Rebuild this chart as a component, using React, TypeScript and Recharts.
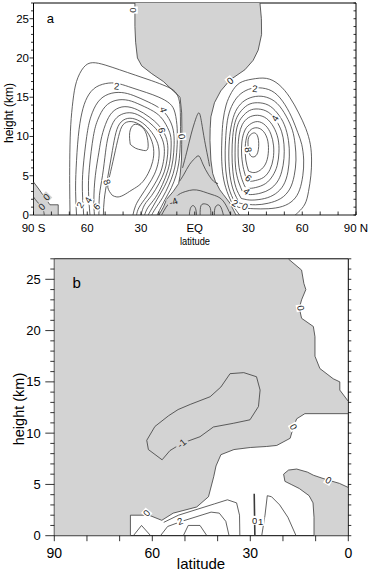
import { Scatter, ScatterChart, XAxis, YAxis } from "recharts";

type Pt = [number, number];
type Lbl = { x: number; y: number; t: string };

const GRAY = "#d3d3d3";
const INK = "#3a3a3a";
const FONT = "'Liberation Sans', Arial, Helvetica, sans-serif";

// ---- axes ----
const KM_TICKS = [0, 1, 2, 3, 4, 5, 6, 7, 8, 9, 10, 11, 12, 13, 14, 15, 16, 17, 18, 19, 20, 21, 22, 23, 24, 25, 26, 27];
const KM_LABELS = ["0", "5", "10", "15", "20", "25"];
const A_LAT_TICKS = [-90, -80, -70, -60, -50, -40, -30, -20, -10, 0, 10, 20, 30, 40, 50, 60, 70, 80, 90];
const A_LAT_NAMES: Record<string, string> = { "-90": "90 S", "-60": "60", "-30": "30", "0": "EQ", "30": "30", "60": "60", "90": "90 N" };
const B_LAT_TICKS = [0, 10, 20, 30, 40, 50, 60, 70, 80, 90];
const B_LAT_NAMES: Record<string, string> = { "90": "90", "60": "60", "30": "30", "0": "0" };

// ---- panel a: shaded (negative) regions, [lat, km] ----
const A_GRAY_MAIN: Pt[] = [
  [-33.4, 27], [-33.4, 24], [-33, 22], [-32, 20], [-29.6, 19], [-24, 18], [-17.5, 17], [-12.9, 16], [-8.2, 15],
  [-7.3, 13], [-7.2, 11], [-7.3, 9], [-7.4, 7], [-8.2, 5], [-9, 4], [-12, 3], [-15.7, 2], [-17.5, 1], [-20, 0],
  [23, 0], [19.7, 1.5], [16, 2.6], [14, 3.2], [11.5, 4.3], [10, 5.3], [9, 7], [8.5, 9.5], [8.6, 11], [9, 12.5],
  [11, 14.3], [14.5, 15.8], [19.7, 17.2], [28, 18.5], [32.6, 19.7], [35.4, 21], [37.3, 23], [37.2, 25], [36.4, 27],
];
const A_GRAY_CORNER: Pt[] = [[-90, 4.2], [-87, 3.3], [-84, 2.3], [-80.8, 1.3], [-76.2, 1.3], [-76.2, 0], [-90, 0]];

// ---- panel a: contour lines ----
const A_SOUTH_LOBE: Pt[][] = [
  [[-69.6, 0], [-69.8, 4], [-69.7, 8], [-69.2, 11.5], [-68, 14.5], [-66, 17], [-62, 18.8], [-57, 19.4], [-50, 19.1], [-42, 18.5], [-33, 17.8], [-24, 17.1], [-16, 16.4], [-11, 15.7], [-8.6, 14.5], [-8, 12.5], [-8, 10], [-8.3, 8], [-9, 6.5], [-10.5, 5], [-13, 3.5], [-16.5, 2], [-21, 0]],
  [[-66, 0], [-66.5, 3], [-66.2, 6], [-65, 10], [-63, 13], [-60, 15], [-55, 16.3], [-48, 16.8], [-42, 16.7], [-35, 16.2], [-27, 15.6], [-20, 15], [-14, 14.2], [-11, 13], [-9.8, 11], [-9.8, 9], [-10.5, 7], [-12, 5.3], [-14.5, 3.8], [-18, 2.2], [-22, 0.8], [-24, 0]],
  [[-62, 0], [-62.7, 3], [-62.3, 6], [-60.3, 10], [-58, 12.5], [-54, 14.4], [-48, 15.4], [-41, 15.6], [-34, 15.2], [-26, 14.4], [-19, 13.5], [-14.5, 12.3], [-12, 10.8], [-11.5, 9], [-12.2, 7], [-14, 5.2], [-17, 3.6], [-21, 2], [-26, 0]],
  [[-58.5, 0], [-59.3, 3], [-58.8, 6], [-56.6, 10], [-54, 12.2], [-50, 13.8], [-44, 14.6], [-37, 14.6], [-30, 14], [-23, 13.2], [-18, 12.2], [-14.5, 10.8], [-13.2, 9.5], [-13.5, 7.5], [-15, 5.7], [-18, 3.9], [-22, 2.2], [-26, 1], [-28, 0]],
  [[-56, 0], [-56.3, 2], [-55.5, 5], [-53.5, 8], [-51.9, 10], [-49, 12], [-45, 13.3], [-39, 13.8], [-32, 13.4], [-25.5, 12.5], [-20, 11.4], [-16.2, 10], [-15, 8.5], [-15.5, 7], [-17, 5.5], [-20, 4], [-24, 2.5], [-28, 1.3], [-30, 0]],
  [[-53.5, 0], [-53.2, 2.5], [-51.5, 5], [-49.8, 8], [-48.3, 10], [-45.5, 11.8], [-41, 12.8], [-35, 13], [-29, 12.4], [-23, 11.3], [-18.8, 10], [-17, 8.5], [-17.5, 6.8], [-19.5, 5.2], [-23, 3.7], [-27, 2.3], [-31, 1], [-32.5, 0]],
  [[-51, 0], [-50.5, 2], [-48.8, 4.5], [-46.5, 7.5], [-44.5, 10], [-42, 11.6], [-37.5, 12.3], [-32, 12.1], [-26.5, 11.2], [-22, 9.8], [-20, 8.4], [-20.3, 6.8], [-22.5, 5.2], [-26, 3.8], [-30, 2.4], [-33, 1.2], [-34.5, 0]],
  [[-46, 2.5], [-48.5, 3.5], [-47.5, 5], [-45, 7.5], [-42.5, 10], [-40, 11.5], [-35.5, 11.9], [-30, 11.4], [-25.5, 10.2], [-23, 8.5], [-23.5, 6.8], [-26, 5.3], [-30, 4], [-35, 3.2], [-40, 2.5], [-43.5, 2.3], [-46, 2.5]],
  [[-36, 9], [-36.3, 10.5], [-34, 11.5], [-30, 11.3], [-27, 10.3], [-26, 8.7], [-27.5, 8.2], [-30, 8.3], [-33, 8.5], [-36, 9]],
];
const A_NORTH_LOBE: Pt[][] = [
  [[25, 0], [21.5, 1.2], [18, 3], [15.8, 5], [15, 7.5], [15.2, 10], [15.8, 12], [17.5, 14], [20.5, 15.6], [25, 16.8], [32, 17.3], [40, 17.4], [47, 16.6], [53, 15], [58, 13], [62, 11], [64.5, 9], [65.2, 7], [64.8, 5], [63.5, 3], [61.5, 1.4], [58, 0.4], [56, 0]],
  [[24, 1.0], [20.5, 2.5], [18, 4.5], [17, 7], [17.2, 9.5], [18.2, 12], [20.5, 13.8], [24.5, 15.2], [30, 16], [36, 16.2], [43, 15.8], [49, 14.5], [54, 12.5], [57.5, 10.5], [59.7, 9], [60.8, 7], [60.3, 5], [58.5, 3.2], [55, 1.9], [49, 1.1], [41, 0.8], [33, 0.8], [27, 0.9], [24, 1.0]],
  [[25, 1.5], [21.8, 3], [19.7, 5], [19, 7.5], [19.5, 10], [21, 12], [23.5, 13.5], [28, 14.6], [34, 15.1], [40, 15], [46, 14.2], [51, 12.6], [54.5, 10.8], [56, 9], [56.5, 7], [55.5, 5], [53, 3.3], [48, 2.1], [41, 1.5], [34, 1.3], [28, 1.4], [25, 1.5]],
  [[26, 2.1], [23, 3.5], [21.3, 5.5], [20.8, 7.8], [21.2, 10], [22.5, 11.8], [25, 13], [29.5, 14], [35, 14.3], [41, 14], [46, 13], [50, 11.5], [52.3, 9.5], [52.8, 7.5], [52, 5.5], [49.5, 3.8], [45, 2.7], [39, 2.1], [32, 1.9], [28, 2], [26, 2.1]],
  [[27, 2.8], [24.5, 4.2], [22.8, 6], [22.5, 8], [22.8, 10], [24, 11.5], [26.5, 12.5], [30.5, 13.3], [35.5, 13.5], [41, 13.1], [45.5, 12], [48.5, 10.6], [49.8, 9], [49.8, 7.2], [48.5, 5.5], [46, 4.2], [42, 3.3], [37, 2.8], [31, 2.6], [27, 2.8]],
  [[28, 3.6], [26, 4.8], [24.5, 6.5], [24.2, 8.5], [24.8, 10.2], [26.5, 11.5], [30, 12.4], [35, 12.7], [40, 12.3], [44, 11.2], [46.5, 9.7], [47, 8], [46, 6.3], [43.5, 5], [39.5, 4], [34, 3.5], [30, 3.4], [28, 3.6]],
  [[29, 4.5], [27.3, 5.8], [26.2, 7.5], [26.3, 9.3], [27.8, 10.7], [30.5, 11.5], [35, 11.9], [39.5, 11.4], [42.5, 10.3], [44, 8.8], [43.8, 7.2], [42, 5.8], [38.5, 4.8], [34, 4.4], [31, 4.3], [29, 4.5]],
  [[30, 5.6], [28.5, 7], [28.2, 8.7], [29.2, 10.1], [31.5, 10.9], [35, 11.1], [38.5, 10.6], [40.8, 9.4], [41, 7.8], [39.5, 6.5], [36.5, 5.7], [33, 5.4], [30, 5.6]],
  [[30, 8.2], [29.8, 9.6], [31.5, 10.3], [34, 10.4], [35.6, 9.5], [35.2, 8], [33, 7.4], [31, 7.6], [30, 8.2]],
];
const A_TROPICS: Pt[][] = [
  [[-6.8, 6], [-4.5, 8], [-2, 10.3], [0.5, 12.2], [2.4, 13], [3.8, 11.8], [5.5, 9.5], [7.2, 7.5], [8.3, 6.2]],
  [[-8.5, 4.3], [-6, 5.2], [-3, 6.4], [0, 7.2], [2.4, 7.5], [4.5, 6.5], [7.5, 5.2], [10.5, 4.3], [13, 4]],
  [[-18.5, 0], [-16, 1], [-13, 1.8], [-9, 2.6], [-5, 3], [-1, 3.2], [3, 3.1], [7, 2.8], [11, 2.5], [15, 2], [18, 1], [20, 0]],
  [[-3, 0], [-2.5, 0.8], [-1, 1.2], [0.5, 0.8], [1, 0]],
  [[3, 0], [3.5, 1.2], [6, 1.4], [8.5, 1], [9, 0]],
  [[11, 0], [11.5, 1], [14, 1.2], [16, 0]],
  [[-90, 2.3], [-88, 1.7], [-86, 1.2], [-84.5, 0.6], [-84, 0]],
];
const A_LABELS: Lbl[] = [
  { x: -34.3, y: 26.1, t: "0" }, { x: -43.6, y: 16.4, t: "2" }, { x: -17.5, y: 13.4, t: "4" },
  { x: -18.4, y: 10.8, t: "6" }, { x: -7.3, y: 10, t: "0" }, { x: -49, y: 4.2, t: "8" },
  { x: -64, y: 1.27, t: "2" }, { x: -59.4, y: 1.9, t: "4" }, { x: -54.7, y: 1.06, t: "6" },
  { x: -11.9, y: 1.7, t: "-4" }, { x: -82.7, y: 2.3, t: "0" }, { x: -85.4, y: 1.06, t: "0" },
  { x: 19.7, y: 17.1, t: "0" }, { x: 33.6, y: 16.1, t: "2" }, { x: 44.8, y: 12.3, t: "4" },
  { x: 29.9, y: 8.3, t: "8" }, { x: 29.9, y: 4.7, t: "6" }, { x: 28.9, y: 3.0, t: "4" },
  { x: 22.4, y: 1.5, t: "2" }, { x: 28, y: 1.06, t: "0" },
];
const A_LABEL_ROT = [90, 5, 75, 80, 85, 70, -60, -60, -50, -20, -45, -45, -40, 5, -60, 80, 40, 40, 30, 30];
const A_LABEL_SHADED = [false, false, false, false, false, false, false, false, false, true, true, true, false, false, false, false, false, false, false, false];

// ---- panel b ----
const B_GRAY_MAIN: Pt[] = [
  [90, 27], [18.4, 27], [14.3, 25.9], [13.6, 24.6], [13, 24], [14.3, 23], [15, 22.2], [14.3, 21.2], [10.7, 20.4],
  [10.2, 19.4], [10.2, 17.5], [8.7, 16.3], [4.6, 15.3], [2.6, 15], [2.6, 14.2], [0, 13.1],
  [0, 11.9], [13.3, 11.9], [15.8, 11.4], [16.8, 10.6], [17.8, 9.5], [21.9, 8.8], [25, 8.7], [30, 8.6], [35, 8.4],
  [39, 7.9], [40.5, 6.8], [41.2, 5.75], [42.8, 3.8], [46.4, 2.8], [53.6, 2.2], [57.1, 1.5], [61, 2.0], [66.7, 2.0],
  [66.7, 0], [90, 0],
];
const B_GRAY_BLOB: Pt[] = [
  [19.4, 5.3], [19.8, 6.0], [18.3, 6.4], [15.8, 6.5], [12.5, 6.2], [10.7, 5.9], [7, 5.5], [2.7, 5.1], [0, 4.7],
  [0, 0], [10.5, 0], [10.5, 1.8], [10.8, 3.2], [12, 3.9], [15, 4.6], [17.5, 5], [19.4, 5.3],
];
const B_LINES: Pt[][] = [
  [[57, 7.4], [61.2, 8.4], [61.7, 9.3], [59.2, 10.65], [55, 11.7], [52.1, 12.3], [48.4, 12.8], [42.3, 13.55], [39, 14.5], [36.2, 15.8], [32, 15.9], [28.1, 15.5], [27, 14.2], [27.5, 12.6], [30.1, 11.3], [35.2, 10.96], [41.3, 10.6], [45.4, 9.65], [51, 9.0], [54.6, 8.3], [57, 7.4]],
  [[56.5, 1.3], [52, 2.0], [46, 2.6], [41, 3.1], [37, 3.5], [34.2, 3.2], [33.3, 2], [33.2, 0]],
  [[57.5, 0], [55.3, 0.9], [51, 1.4], [46, 1.9], [42, 2.3], [39.5, 2.2], [37.5, 1.4], [36.5, 0]],
  [[50.5, 0], [49, 1.0], [45.4, 1.0], [43.3, 0]],
  [[65.8, 0], [63.3, 1.0], [60.5, 0]],
  [[26.5, 0], [25.5, 2], [24.8, 3.9], [23.5, 3.8], [21, 3.0], [18.5, 1.8], [16, 0]],
];
const B_ZERO_LINE: Pt[] = [[28.8, 4.1], [28.7, 2], [28.6, 0]];
const B_LABELS: Lbl[] = [
  { x: 14.6, y: 22.2, t: "0" }, { x: 16.8, y: 10.6, t: "0" }, { x: 6.1, y: 5.4, t: "0" },
  { x: 51, y: 9.0, t: "-1" }, { x: 61.7, y: 2.2, t: "0" }, { x: 51.5, y: 1.4, t: "2" },
  { x: 28.7, y: 1.5, t: "0" }, { x: 26.8, y: 1.4, t: "1" },
];
const B_LABEL_ROT = [80, 60, 30, -40, -50, -20, 0, 0];
const B_LABEL_SHADED = [false, false, false, true, false, false, false, false];

const pts = (a: Pt[]) => a.map(([x, y]) => ({ x, y }));
const noDot = () => <g />;

function ContourLabel(props: any) {
  const { cx, cy, payload } = props;
  if (cx == null || cy == null) return <g />;
  const w = payload.t.length * 5.2 + 2;
  return (
    <g transform={`translate(${cx},${cy}) rotate(${payload.a})`}>
      <rect x={-w / 2} y={-4.5} width={w} height={9} style={{ fill: payload.g ? GRAY : "#fff", stroke: "none" }} />
      <text x={0} y={3.3} textAnchor="middle" fontSize={9.5} style={{ fontFamily: FONT, fill: "#222", stroke: "none" }}>
        {payload.t}
      </text>
    </g>
  );
}

const labelData = (l: Lbl[], rot: number[], shaded: boolean[]) =>
  l.map((d, i) => ({ ...d, a: rot[i], g: shaded[i] }));

// ---- tick renderers (tickSize 0, so x/y sit on the frame) ----
const txt = { fontFamily: FONT, fill: "#000" };

function aBottomTick(p: any) {
  const name = A_LAT_NAMES[String(p.payload.value)];
  return (
    <g>
      <line x1={p.x} x2={p.x} y1={p.y} y2={p.y - 3.5} stroke="#000" strokeWidth={0.8} />
      {name && <text x={p.x} y={p.y + 17} textAnchor="middle" fontSize={11.5} style={txt}>{name}</text>}
    </g>
  );
}
function aTopTick(p: any) {
  return <line x1={p.x} x2={p.x} y1={p.y} y2={p.y + 3} stroke="#000" strokeWidth={0.8} />;
}
function aLeftTick(p: any) {
  const v = String(p.payload.value);
  const major = KM_LABELS.includes(v);
  return (
    <g>
      <line x1={p.x} x2={p.x - (major ? 4 : 2.5)} y1={p.y} y2={p.y} stroke="#000" strokeWidth={0.8} />
      {major && <text x={p.x - 4.5} y={p.y + 4} textAnchor="end" fontSize={11.5} style={txt}>{v}</text>}
    </g>
  );
}
function aRightTick(p: any) {
  return <line x1={p.x} x2={p.x - 2.5} y1={p.y} y2={p.y} stroke="#000" strokeWidth={0.8} />;
}
function bBottomTick(p: any) {
  const name = B_LAT_NAMES[String(p.payload.value)];
  return (
    <g>
      <line x1={p.x} x2={p.x} y1={p.y} y2={p.y + 5.5} stroke="#000" strokeWidth={0.8} />
      {name && <text x={p.x} y={p.y + 22} textAnchor="middle" fontSize={14} style={txt}>{name}</text>}
    </g>
  );
}
function bTopTick(p: any) {
  return <line x1={p.x} x2={p.x} y1={p.y} y2={p.y - 2} stroke="#000" strokeWidth={0.8} />;
}
function bLeftTick(p: any) {
  const v = String(p.payload.value);
  const major = KM_LABELS.includes(v);
  return (
    <g>
      <line x1={p.x} x2={p.x - (major ? 9 : 4)} y1={p.y} y2={p.y} stroke="#000" strokeWidth={0.8} />
      {major && <text x={p.x - 13.5} y={p.y + 4.6} textAnchor="end" fontSize={13} style={txt}>{v}</text>}
    </g>
  );
}
function bRightTick(p: any) {
  return <line x1={p.x} x2={p.x + 3} y1={p.y} y2={p.y} stroke="#000" strokeWidth={0.8} />;
}

const FILL_LINE = { fill: GRAY, stroke: INK, strokeWidth: 0.8 };
const CONTOUR = { stroke: INK, strokeWidth: 0.8 };

function PanelA() {
  const lines = [...A_SOUTH_LOBE, ...A_NORTH_LOBE, ...A_TROPICS];
  return (
    <ScatterChart width={370} height={250} margin={{ top: 2, right: 13, bottom: 34, left: 32.5 }}>
      <Scatter data={pts(A_GRAY_MAIN)} line={FILL_LINE} lineJointType="linear" shape={noDot} isAnimationActive={false} />
      <Scatter data={pts(A_GRAY_CORNER)} line={FILL_LINE} lineJointType="linear" shape={noDot} isAnimationActive={false} />
      {lines.map((c, i) => (
        <Scatter key={i} data={pts(c)} line={CONTOUR} lineJointType="natural" shape={noDot} isAnimationActive={false} />
      ))}
      <Scatter data={labelData(A_LABELS, A_LABEL_ROT, A_LABEL_SHADED)} fill="#222" shape={ContourLabel} isAnimationActive={false} />
      <XAxis type="number" dataKey="x" domain={[-90, 90]} allowDataOverflow ticks={A_LAT_TICKS} interval={0}
        height={1} tickSize={0} tickMargin={0} tickLine={false} axisLine={{ stroke: "#8c8c8c", strokeWidth: 2 }} tick={aBottomTick} />
      <XAxis xAxisId="t" orientation="top" type="number" domain={[-90, 90]} allowDataOverflow ticks={A_LAT_TICKS} interval={0}
        height={1} tickSize={0} tickMargin={0} tickLine={false} axisLine={{ stroke: "#000" }} tick={aTopTick} />
      <YAxis type="number" dataKey="y" domain={[0, 27]} allowDataOverflow ticks={KM_TICKS} interval={0}
        width={1} tickSize={0} tickMargin={0} tickLine={false} axisLine={{ stroke: "#000" }} tick={aLeftTick} />
      <YAxis yAxisId="r" orientation="right" type="number" domain={[0, 27]} allowDataOverflow ticks={KM_TICKS} interval={0}
        width={1} tickSize={0} tickMargin={0} tickLine={false} axisLine={{ stroke: "#000" }} tick={aRightTick} />
    </ScatterChart>
  );
}

function PanelB() {
  return (
    <ScatterChart width={370} height={321} margin={{ top: 7.8, right: 20.7, bottom: 34.3, left: 53.3 }}>
      <Scatter data={pts(B_GRAY_MAIN)} line={FILL_LINE} lineJointType="linear" shape={noDot} isAnimationActive={false} />
      <Scatter data={pts(B_GRAY_BLOB)} line={FILL_LINE} lineJointType="linear" shape={noDot} isAnimationActive={false} />
      {B_LINES.map((c, i) => (
        <Scatter key={i} data={pts(c)} line={CONTOUR} lineJointType="linear" shape={noDot} isAnimationActive={false} />
      ))}
      <Scatter data={pts(B_ZERO_LINE)} line={{ stroke: INK, strokeWidth: 1.6 }} lineJointType="linear" shape={noDot} isAnimationActive={false} />
      <Scatter data={labelData(B_LABELS, B_LABEL_ROT, B_LABEL_SHADED)} fill="#222" shape={ContourLabel} isAnimationActive={false} />
      <XAxis type="number" dataKey="x" domain={[0, 90]} reversed allowDataOverflow ticks={B_LAT_TICKS} interval={0}
        height={1} tickSize={0} tickMargin={0} tickLine={false} axisLine={{ stroke: "#000" }} tick={bBottomTick} />
      <XAxis xAxisId="t" orientation="top" type="number" domain={[0, 90]} reversed allowDataOverflow ticks={B_LAT_TICKS} interval={0}
        height={1} tickSize={0} tickMargin={0} tickLine={false} axisLine={{ stroke: "#000" }} tick={bTopTick} />
      <YAxis type="number" dataKey="y" domain={[0, 27]} allowDataOverflow ticks={KM_TICKS} interval={0}
        width={1} tickSize={0} tickMargin={0} tickLine={false} axisLine={{ stroke: "#000" }} tick={bLeftTick} />
      <YAxis yAxisId="r" orientation="right" type="number" domain={[0, 27]} allowDataOverflow ticks={KM_TICKS} interval={0}
        width={1} tickSize={0} tickMargin={0} tickLine={false} axisLine={{ stroke: "#000" }} tick={bRightTick} />
    </ScatterChart>
  );
}

export default function App() {
  return (
    <div style={{ position: "absolute", left: 0, top: 0, width: 370, height: 571, background: "#fff", fontFamily: FONT }}>
      <div style={{ position: "absolute", left: 0, top: 0 }}>
        <PanelA />
      </div>
      <div style={{ position: "absolute", left: 0, top: 250 }}>
        <PanelB />
      </div>
      <svg width={370} height={571} style={{ position: "absolute", left: 0, top: 0, pointerEvents: "none", fontFamily: FONT }}>
        <text x={50.3} y={22.7} textAnchor="middle" fontSize={13}>a</text>
        <text transform="translate(12.5,113) rotate(-90)" textAnchor="middle" fontSize={12}>height (km)</text>
        <text x={195} y={244.8} textAnchor="middle" fontSize={10.5} textLength={30} lengthAdjust="spacingAndGlyphs">latitude</text>
        <text x={76.7} y={288} textAnchor="middle" fontSize={15}>b</text>
        <text transform="translate(24,409) rotate(-90)" textAnchor="middle" fontSize={14.5}>height (km)</text>
        <text x={201} y={569} textAnchor="middle" fontSize={15}>latitude</text>
      </svg>
    </div>
  );
}
